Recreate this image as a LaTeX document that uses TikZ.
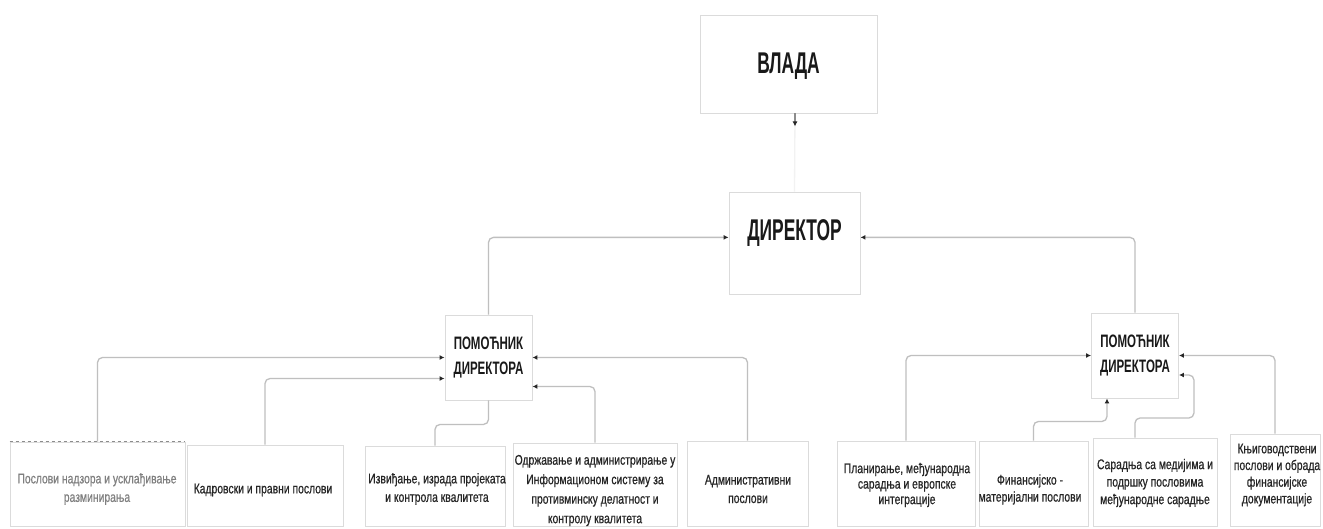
\documentclass[tikz,border=0pt]{standalone}
\usepackage{fontspec}
\setmainfont{Liberation Sans}
\newfontfamily\hdfont[FakeStretch=0.58]{Liberation Sans Bold}
\newfontfamily\pmfont[FakeStretch=0.64]{Liberation Sans Bold}
\newfontfamily\bdfont[FakeStretch=0.74,FakeBold=0.6]{Liberation Sans}
\usetikzlibrary{arrows.meta,calc}
\tikzset{
  frame/.style={draw=black!14, line width=0.9pt, inner sep=0pt},
  conn/.style={draw=black!25, line width=1.3pt, rounded corners=5pt},
  tip/.style={-{Latex[length=5pt,width=5pt,color=black!85]}},
  hd/.style={font=\hdfont\fontsize{30}{36}\selectfont, text=black!90},
  pom/.style={frame, minimum width=87pt, minimum height=85pt, align=center,
    font=\pmfont\fontsize{18}{25}\selectfont, text=black!90},
  cell/.style={frame},
  ctext/.style={align=center, inner sep=0pt, text=black!85,
    font=\bdfont\fontsize{14}{18.5}\selectfont},
}
\begin{document}
\begin{tikzpicture}[x=1pt,y=-1pt]
\useasboundingbox (0,0) rectangle (1323,528);
\fill[white] (0,0) rectangle (1323,528);

% top levels
\node[frame, hd, minimum width=177pt, text height=58pt, text depth=40pt,
      inner ysep=0pt, anchor=base] (vlada) at (788.5,73) {ВЛАДА};
\node[frame, hd, minimum width=131pt, text height=48pt, text depth=54pt,
      inner ysep=0pt, anchor=base] (direktor) at (794.5,240) {ДИРЕКТОР};

% assistants
\node[pom] (pomL) at (488.5,357.5) {ПОМОЋНИК\\ДИРЕКТОРА};
\node[pom] (pomR) at (1135,355.5) {ПОМОЋНИК\\ДИРЕКТОРА};

% bottom cells
\node[cell, minimum width=175pt, minimum height=84pt] (b1) at (97.5,484) {};
\node[cell, minimum width=156pt, minimum height=81pt] (b2) at (265,485.5) {};
\node[cell, minimum width=140pt, minimum height=80pt] (b3) at (435,486) {};
\node[cell, minimum width=164pt, minimum height=83pt] (b4) at (595,484.5) {};
\node[cell, minimum width=121pt, minimum height=85pt] (b5) at (747.5,483.5) {};
\node[cell, minimum width=138pt, minimum height=85pt] (b6) at (906,483.5) {};
\node[cell, minimum width=109pt, minimum height=85pt] (b7) at (1033.5,483.5) {};
\node[cell, minimum width=124pt, minimum height=88pt] (b8) at (1155,482) {};
\node[cell, minimum width=90pt, minimum height=92pt] (b9) at (1275,480) {};
\draw[dashed, black!45, line width=1pt] (b1.north west) -- (b1.north east);

% cell texts
\node[ctext, text=black!50] (t1) at (97,489) {Послови надзора и усклађивање\\разминирања};
\node[ctext] (t2) at (263,490) {Кадровски и правни послови};
\node[ctext] (t3) at (437,489) {Извиђање, израда пројеката\\и контрола квалитета};
\node[ctext, font=\bdfont\fontsize{14}{19.5}\selectfont] (t4) at (595,490.5)
  {Одржавање и администрирање у\\Информационом систему за\\противминску делатност и\\контролу квалитета};
\node[ctext] (t5) at (748,489) {Административни\\послови};
\node[ctext, font=\bdfont\fontsize{14}{15.5}\selectfont] (t6) at (907,485)
  {Планирање, међународна\\сарадња и европске\\интеграције};
\node[ctext, font=\bdfont\fontsize{14}{17}\selectfont] (t7) at (1030,489.5) {Финансијско -\\материјални послови};
\node[ctext, font=\bdfont\fontsize{14}{17.5}\selectfont] (t8) at (1155,483)
  {Сарадња са медијима и\\подршку пословима\\међународне сарадње};
\node[ctext, font=\bdfont\fontsize{14}{16.7}\selectfont] (t9) at (1277,475)
  {Књиговодствени\\послови и обрада\\финансијске\\документације};

% connectors
\draw[conn, draw=black!5] ($(vlada.south)+(6.5,0)$) -- (direktor.north);
\draw[line width=1.3pt, black!45, tip] ($(vlada.south)+(6.5,0)$) -- ++(0,13);
\draw[conn, tip] (pomL.north) |- (direktor.mid west);
\draw[conn, tip] (pomR.north) |- (direktor.mid east);

\draw[conn, tip] (b1.north) |- (pomL.west);
\draw[conn, tip] (b2.north) |- ($(pomL.west)+(0,21)$);
\draw[conn] (b3.north) |- ($(pomL.south)+(0,24)$) -- (pomL.south);
\draw[conn, tip] (b4.north) |- ($(pomL.east)+(0,29)$);
\draw[conn, tip] (b5.north) |- (pomL.east);

\draw[conn, tip] (b6.north) |- (pomR.west);
\draw[conn, tip] (b7.north) |- ($(pomR.south)+(-28,23)$) -- ($(pomR.south)+(-28,0)$);
\draw[conn, tip] ($(b8.north)+(-20,0)$) |- ($(pomR.east)+(15,62.5)$) |- ($(pomR.east)+(0,19.5)$);
\draw[conn, tip] (b9.north) |- (pomR.east);
\end{tikzpicture}
\end{document}
